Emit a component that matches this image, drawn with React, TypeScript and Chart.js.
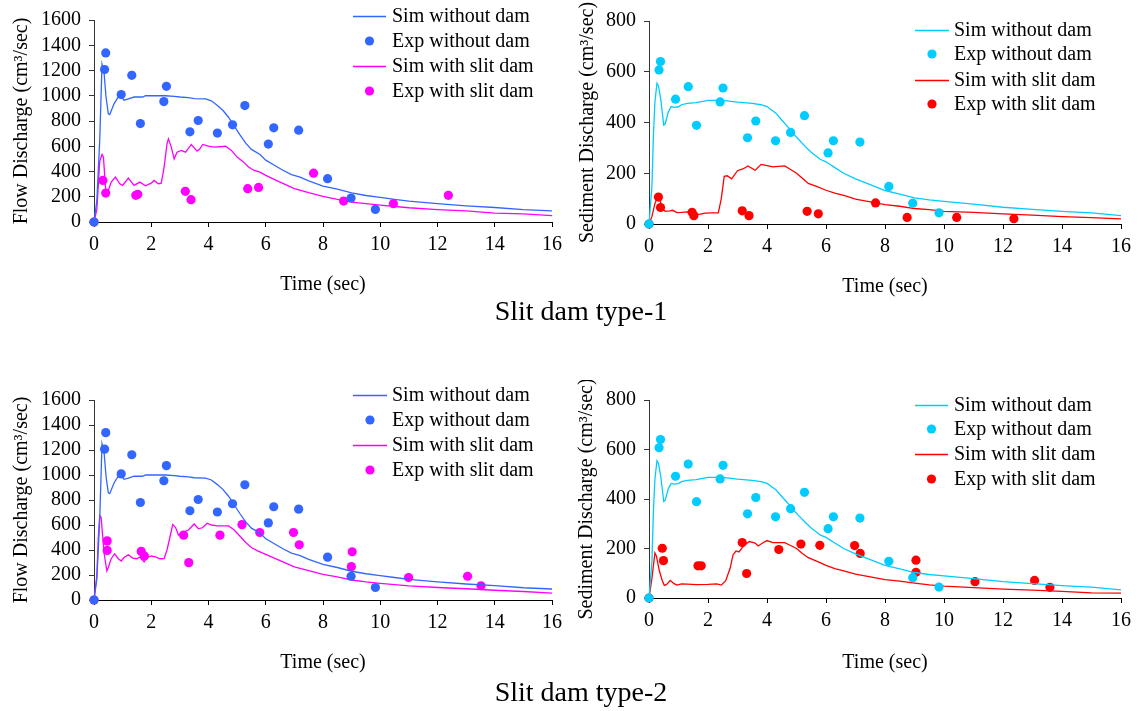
import React, { useEffect, useRef } from 'react';
import { Chart, registerables } from 'chart.js';

Chart.register(...registerables);

const FONT = "'Liberation Serif', 'Times New Roman', serif";

// ---------- Data ----------
// Flow discharge, without dam (shared by both dam types)
const simNoDamFlowT = [0, 0.1, 0.2, 0.28, 0.35, 0.42, 0.5, 0.55, 0.7, 0.9, 1.05, 1.2, 1.4, 1.7, 1.8, 2.0, 2.5, 2.8, 3.0, 3.3, 3.5, 3.9, 4.1, 4.3, 4.5, 4.7, 4.9, 5.1, 5.3, 5.5, 5.8, 6.0, 6.3, 6.6, 6.9, 7.2, 7.5, 8.0, 8.5, 9.0, 9.5, 10, 10.5, 11, 12, 13, 14, 15, 16];
const simNoDamFlowQ = [0, 170, 645, 1250, 1186, 990, 857, 851, 936, 1010, 965, 975, 990, 990, 1000, 1000, 1000, 995, 990, 985, 978, 975, 960, 925, 885, 830, 760, 690, 625, 575, 535, 490, 450, 410, 375, 355, 325, 285, 260, 230, 210, 195, 180, 165, 145, 128, 115, 98, 88];
const expNoDamFlowT = [0, 0.37, 0.41, 0.95, 1.32, 1.62, 2.44, 2.53, 3.35, 3.64, 4.31, 4.84, 5.27, 6.09, 6.28, 7.15, 8.16, 8.98, 9.83];
const expNoDamFlowQ = [0, 1207, 1339, 1009, 1162, 780, 954, 1075, 714, 804, 704, 770, 922, 617, 746, 727, 343, 190, 100];

// Flow discharge, slit dam type-1
const simSlit1FlowT = [0, 0.1, 0.2, 0.28, 0.33, 0.4, 0.45, 0.5, 0.6, 0.75, 0.9, 1.0, 1.2, 1.4, 1.6, 1.8, 2.0, 2.1, 2.25, 2.35, 2.45, 2.55, 2.6, 2.7, 2.8, 2.9, 3.05, 3.2, 3.4, 3.6, 3.7, 3.8, 4.0, 4.2, 4.5, 4.6, 4.8, 5.0, 5.2, 5.4, 5.6, 5.8, 6.0, 6.5, 7.0, 7.5, 8.0, 8.5, 9.0, 9.5, 10, 11, 12, 13, 14, 15, 16];
const simSlit1FlowQ = [0, 100, 480, 535, 514, 277, 224, 250, 316, 356, 303, 290, 348, 290, 316, 287, 308, 329, 303, 308, 435, 619, 659, 593, 500, 553, 567, 553, 614, 561, 580, 614, 601, 593, 598, 601, 567, 514, 480, 435, 408, 395, 369, 316, 264, 232, 203, 179, 158, 145, 134, 113, 98, 88, 71, 65, 50];
const expSlit1FlowT = [0, 0.31, 0.41, 1.46, 1.53, 3.19, 3.39, 5.37, 5.75, 7.67, 8.72, 10.46, 12.38];
const expSlit1FlowQ = [0, 329, 229, 211, 219, 243, 177, 264, 274, 387, 166, 145, 211];

// Flow discharge, slit dam type-2
const simSlit2FlowT = [0, 0.1, 0.15, 0.2, 0.25, 0.3, 0.35, 0.4, 0.45, 0.5, 0.6, 0.72, 0.85, 0.95, 1.05, 1.2, 1.35, 1.5, 1.6, 1.75, 1.85, 2.0, 2.15, 2.3, 2.45, 2.55, 2.65, 2.75, 2.85, 2.95, 3.1, 3.3, 3.5, 3.65, 3.8, 3.95, 4.1, 4.3, 4.7, 4.9, 5.1, 5.3, 5.5, 5.7, 6.0, 6.3, 6.6, 7.0, 7.5, 8.0, 8.5, 9.0, 9.5, 10, 11, 12, 13, 14, 15, 16];
const simSlit2FlowQ = [0, 200, 500, 675, 660, 520, 380, 304, 233, 260, 330, 370, 330, 312, 340, 362, 335, 330, 344, 304, 340, 352, 345, 330, 331, 400, 500, 603, 580, 520, 540, 560, 608, 570, 580, 614, 600, 593, 593, 560, 510, 460, 420, 395, 365, 335, 305, 265, 235, 205, 185, 160, 145, 133, 113, 100, 90, 78, 68, 55];
const expSlit2FlowT = [0, 0.46, 0.46, 1.65, 1.76, 3.13, 3.31, 4.4, 5.17, 5.79, 6.97, 7.17, 8.99, 9.02, 10.99, 13.05, 13.52];
const expSlit2FlowQ = [0, 473, 397, 389, 352, 519, 299, 519, 603, 540, 540, 442, 267, 386, 180, 190, 114];

// Sediment discharge, without dam (shared)
const simNoDamSedT = [0, 0.1, 0.15, 0.2, 0.27, 0.32, 0.4, 0.5, 0.55, 0.65, 0.75, 0.85, 1.0, 1.1, 1.3, 1.6, 2.0, 2.5, 3.0, 3.5, 3.8, 4.0, 4.3, 4.5, 4.7, 4.9, 5.1, 5.3, 5.5, 5.8, 6.0, 6.3, 6.6, 7.0, 7.5, 8.0, 8.5, 9.0, 9.5, 10, 11, 12, 13, 14, 15, 16];
const simNoDamSedQ = [0, 150, 350, 480, 555, 545, 490, 390, 395, 440, 463, 460, 462, 470, 475, 478, 487, 487, 480, 475, 470, 463, 437, 410, 384, 355, 330, 305, 283, 255, 245, 222, 200, 178, 155, 132, 118, 103, 95, 89, 78, 66, 58, 50, 44, 33];
const expNoDamSedT = [0, 0.34, 0.39, 0.9, 1.33, 1.61, 2.41, 2.51, 3.34, 3.62, 4.29, 4.8, 5.27, 6.07, 6.25, 7.15, 8.13, 8.94, 9.83];
const expNoDamSedQ = [0, 607, 640, 492, 541, 389, 481, 536, 340, 406, 328, 361, 427, 280, 328, 323, 148, 82, 44];

// Sediment discharge, slit dam type-1
const simSlit1SedT = [0, 0.1, 0.2, 0.3, 0.35, 0.45, 0.55, 0.7, 0.8, 0.95, 1.1, 1.3, 1.5, 1.7, 1.9, 2.1, 2.35, 2.45, 2.55, 2.65, 2.8, 3.0, 3.2, 3.35, 3.6, 3.8, 4.0, 4.2, 4.6, 4.8, 5.0, 5.2, 5.4, 5.7, 6.0, 6.3, 6.6, 7.0, 7.5, 8.0, 8.5, 9.0, 9.5, 10, 11, 12, 13, 14, 15, 16];
const simSlit1SedQ = [0, 30, 80, 108, 105, 60, 50, 52, 54, 45, 46, 48, 40, 38, 43, 44, 44, 100, 188, 190, 178, 210, 218, 229, 212, 235, 230, 225, 229, 215, 200, 180, 160, 147, 133, 122, 113, 98, 87, 76, 70, 61, 57, 50, 46, 40, 35, 29, 25, 20];
const expSlit1SedT = [0, 0.32, 0.39, 1.46, 1.52, 3.16, 3.39, 5.36, 5.74, 7.68, 8.75, 10.43, 12.37];
const expSlit1SedQ = [0, 106, 65, 46, 33, 52, 33, 50, 40, 83, 26, 26, 21];

// Sediment discharge, slit dam type-2
const simSlit2SedT = [0, 0.1, 0.2, 0.25, 0.35, 0.45, 0.52, 0.6, 0.72, 0.85, 0.95, 1.1, 1.3, 1.6, 2.0, 2.3, 2.45, 2.6, 2.75, 2.85, 2.95, 3.05, 3.2, 3.4, 3.6, 3.7, 3.85, 4.0, 4.2, 4.6, 4.8, 5.0, 5.2, 5.4, 5.7, 6.0, 6.3, 6.6, 7.0, 7.5, 8.0, 8.5, 9.0, 9.5, 10, 11, 12, 13, 14, 15, 16];
const simSlit2SedQ = [0, 80, 182, 170, 110, 70, 51, 55, 71, 58, 52, 57, 56, 54, 55, 57, 52, 70, 120, 175, 190, 186, 210, 228, 222, 210, 222, 232, 224, 224, 212, 200, 180, 163, 148, 132, 119, 110, 96, 85, 74, 68, 60, 53, 48, 42, 36, 32, 27, 21, 20];
const expSlit2SedT = [0, 0.45, 0.49, 1.66, 1.77, 3.16, 3.31, 4.4, 5.15, 5.79, 6.97, 7.16, 9.05, 9.05, 11.05, 13.07, 13.59];
const expSlit2SedQ = [0, 201, 151, 130, 130, 224, 99, 196, 218, 213, 212, 180, 153, 104, 66, 71, 43];

const seriesLabels = ['Sim without dam', 'Exp without dam', 'Sim with slit dam', 'Exp with slit dam'];
const xTitle = 'Time (sec)';
const flowTitle = 'Flow Discharge (cm³/sec)';
const sedTitle = 'Sediment Discharge (cm³/sec)';
const captions = ['Slit dam type-1', 'Slit dam type-2'];

// ---------- Styling ----------
const BLUE = '#3366FF';
const MAGENTA = '#FF00FF';
const CYAN = '#00CCFF';
const RED = '#FF0000';

const pts = (t: number[], q: number[]) => t.map((x, i) => ({ x, y: q[i] }));

const legendPlugin = {
  id: 'customLegend',
  afterDraw(chart: any, _args: any, opts: any) {
    const ctx = chart.ctx as CanvasRenderingContext2D;
    ctx.save();
    ctx.font = `${opts.fontSize}px ${FONT}`;
    ctx.textBaseline = 'middle';
    ctx.textAlign = 'left';
    chart.data.datasets.forEach((ds: any, i: number) => {
      const y = opts.rows[i];
      if (ds.showLine) {
        ctx.strokeStyle = ds.borderColor;
        ctx.lineWidth = ds.borderWidth;
        ctx.beginPath();
        ctx.moveTo(opts.x1, y + 0.5);
        ctx.lineTo(opts.x2, y + 0.5);
        ctx.stroke();
      } else {
        ctx.fillStyle = ds.backgroundColor;
        ctx.beginPath();
        ctx.arc((opts.x1 + opts.x2) / 2, y, ds.pointRadius, 0, Math.PI * 2);
        ctx.fill();
      }
      ctx.fillStyle = '#000';
      ctx.fillText(ds.label, opts.textX, y + 1);
    });
    ctx.restore();
  },
};

type Spec = {
  left: number; top: number; width: number; height: number;
  yMax: number; yStep: number; yTitle: string;
  colors: [string, string];
  sim0: [number[], number[]]; exp0: [number[], number[]];
  sim1: [number[], number[]]; exp1: [number[], number[]];
  yWidth: number; padTop: number; padRight: number; xHeight: number;
  xTitlePad: number; yTitlePad: number;
  legend: { x1: number; x2: number; textX: number; rows: number[] };
};

function buildConfig(s: Spec): any {
  const font = { family: FONT, size: 20 };
  const lineDs = (label: string, d: [number[], number[]], c: string) => ({
    label, data: pts(d[0], d[1]), showLine: true, borderColor: c, backgroundColor: c,
    borderWidth: 1.3, pointRadius: 0, tension: 0, clip: false,
  });
  const dotDs = (label: string, d: [number[], number[]], c: string) => ({
    label, data: pts(d[0], d[1]), showLine: false, borderColor: c, backgroundColor: c,
    borderWidth: 0, pointRadius: 4.6, pointHoverRadius: 4.6, clip: false,
  });
  const plain = (v: any) => String(v);
  return {
    type: 'scatter',
    data: {
      datasets: [
        lineDs(seriesLabels[0], s.sim0, s.colors[0]),
        dotDs(seriesLabels[1], s.exp0, s.colors[0]),
        lineDs(seriesLabels[2], s.sim1, s.colors[1]),
        dotDs(seriesLabels[3], s.exp1, s.colors[1]),
      ],
    },
    options: {
      responsive: false,
      animation: false,
      devicePixelRatio: 1,
      events: [],
      layout: { padding: { left: 0, top: s.padTop, right: s.padRight, bottom: 0 } },
      plugins: {
        legend: { display: false },
        tooltip: { enabled: false },
        customLegend: { ...s.legend, fontSize: 20 },
      },
      scales: {
        x: {
          type: 'linear', min: 0, max: 16,
          ticks: { stepSize: 2, color: '#000', font, padding: 6, maxRotation: 0, autoSkip: false, callback: plain },
          grid: { drawOnChartArea: false, drawTicks: true, tickLength: 5, color: '#000' },
          border: { display: true, color: '#000', width: 1 },
          title: { display: true, text: xTitle, color: '#000', font, padding: { top: 0, bottom: s.xTitlePad } },
          afterFit: (sc: any) => { sc.height = s.xHeight; },
        },
        y: {
          type: 'linear', min: 0, max: s.yMax,
          ticks: { stepSize: s.yStep, color: '#000', font, padding: 8, autoSkip: false, callback: plain },
          grid: { drawOnChartArea: false, drawTicks: true, tickLength: 5, color: '#333' },
          border: { display: true, color: '#333', width: 1 },
          title: { display: true, text: s.yTitle, color: '#000', font, padding: { top: s.yTitlePad, bottom: 0 } },
          afterFit: (sc: any) => { sc.width = s.yWidth; },
        },
      },
    },
    plugins: [legendPlugin],
  };
}

const specs: Spec[] = [
  {
    left: 0, top: 0, width: 568, height: 300, yMax: 1600, yStep: 200, yTitle: flowTitle,
    colors: [BLUE, MAGENTA],
    sim0: [simNoDamFlowT, simNoDamFlowQ], exp0: [expNoDamFlowT, expNoDamFlowQ],
    sim1: [simSlit1FlowT, simSlit1FlowQ], exp1: [expSlit1FlowT, expSlit1FlowQ],
    yWidth: 94, padTop: 20, padRight: 15, xHeight: 78, xTitlePad: 3, yTitlePad: 10,
    legend: { x1: 353, x2: 386, textX: 392, rows: [16, 41, 66, 91] },
  },
  {
    left: 568, top: 0, width: 569, height: 300, yMax: 800, yStep: 200, yTitle: sedTitle,
    colors: [CYAN, RED],
    sim0: [simNoDamSedT, simNoDamSedQ], exp0: [expNoDamSedT, expNoDamSedQ],
    sim1: [simSlit1SedT, simSlit1SedQ], exp1: [expSlit1SedT, expSlit1SedQ],
    yWidth: 81, padTop: 21, padRight: 16, xHeight: 76, xTitlePad: 1, yTitlePad: 8,
    legend: { x1: 347, x2: 381, textX: 386, rows: [30, 54, 80, 104] },
  },
  {
    left: 0, top: 380, width: 568, height: 300, yMax: 1600, yStep: 200, yTitle: flowTitle,
    colors: [BLUE, MAGENTA],
    sim0: [simNoDamFlowT, simNoDamFlowQ], exp0: [expNoDamFlowT, expNoDamFlowQ],
    sim1: [simSlit2FlowT, simSlit2FlowQ], exp1: [expSlit2FlowT, expSlit2FlowQ],
    yWidth: 94, padTop: 20, padRight: 15, xHeight: 80, xTitlePad: 5, yTitlePad: 10,
    legend: { x1: 353, x2: 387, textX: 392, rows: [15, 40, 65, 90] },
  },
  {
    left: 568, top: 380, width: 569, height: 300, yMax: 800, yStep: 200, yTitle: sedTitle,
    colors: [CYAN, RED],
    sim0: [simNoDamSedT, simNoDamSedQ], exp0: [expNoDamSedT, expNoDamSedQ],
    sim1: [simSlit2SedT, simSlit2SedQ], exp1: [expSlit2SedT, expSlit2SedQ],
    yWidth: 81, padTop: 16, padRight: 16, xHeight: 82, xTitlePad: 5, yTitlePad: 7,
    legend: { x1: 347, x2: 380, textX: 386, rows: [25, 49, 74, 99] },
  },
];

function Panel({ spec }: { spec: Spec }) {
  const ref = useRef<HTMLCanvasElement>(null);
  useEffect(() => {
    if (!ref.current) return;
    const chart = new Chart(ref.current, buildConfig(spec));
    return () => chart.destroy();
  }, [spec]);
  return (
    <canvas
      ref={ref}
      width={spec.width}
      height={spec.height}
      style={{ position: 'absolute', left: spec.left, top: spec.top, width: spec.width, height: spec.height }}
    />
  );
}

const captionTops = [311, 692];

export default function App() {
  return (
    <div style={{ position: 'fixed', left: 0, top: 0, width: 1137, height: 711, background: '#fff', overflow: 'hidden' }}>
      {specs.map((s, i) => <Panel key={i} spec={s} />)}
      {captions.map((c, i) => (
        <div
          key={c}
          style={{
            position: 'absolute', left: 381, width: 400, top: captionTops[i] - 16, height: 32,
            lineHeight: '32px', textAlign: 'center', fontFamily: FONT, fontSize: 28, color: '#000',
          }}
        >
          {c}
        </div>
      ))}
    </div>
  );
}
